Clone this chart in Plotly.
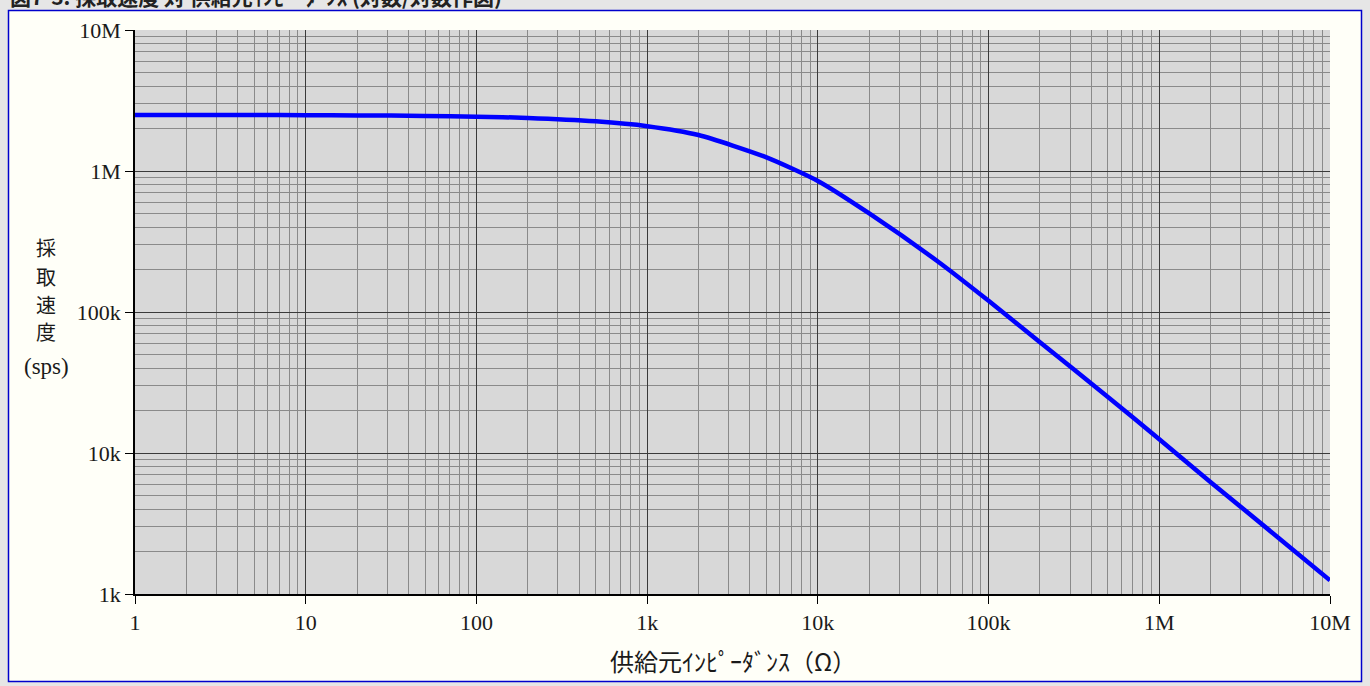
import plotly.graph_objects as go

# Source impedance (ohm) and sampling rate (sps)
impedance = [1, 2, 5, 10, 20, 50, 100, 200, 500, 1e3, 2e3, 5e3, 1e4, 2e4, 5e4,
             1e5, 2e5, 5e5, 1e6, 2e6, 5e6, 1e7]
rate = [2.5e6, 2.5e6, 2.5e6, 2.49e6, 2.48e6, 2.46e6, 2.43e6, 2.38e6, 2.25e6,
        2.08e6, 1.8e6, 1.25e6, 0.85e6, 0.5e6, 0.23e6, 0.12e6, 0.061e6,
        0.025e6, 12.5e3, 6.2e3, 2.5e3, 1.25e3]

x_tickvals = [1, 10, 100, 1e3, 1e4, 1e5, 1e6, 1e7]
x_ticktext = ["1", "10", "100", "1k", "10k", "100k", "1M", "10M"]
y_tickvals = [1e3, 1e4, 1e5, 1e6, 1e7]
y_ticktext = ["1k", "10k", "100k", "1M", "10M"]

title_text = "図7-3. 採取速度 対 供給元ｲﾝﾋﾟｰﾀﾞﾝｽ (対数/対数作図)"
x_title = "供給元ｲﾝﾋﾟｰﾀﾞﾝｽ（Ω）"
y_title_parts = ["採", "取", "速", "度", "(sps)"]

FONT = "Liberation Serif, Noto Sans CJK JP, serif"
CJK = "Noto Sans CJK JP, sans-serif"

W, H = 1370, 686
L, R, T, B = 135, 40, 30, 92
pw, ph = W - L - R, H - T - B

def px_x(p):
    return (p - L) / pw

def px_y(p):
    return (H - B - p) / ph

fig = go.Figure()
fig.add_trace(go.Scatter(
    x=impedance, y=rate, mode="lines",
    line=dict(color="#0000ff", width=4.5, shape="spline", smoothing=0.6),
    hoverinfo="x+y", showlegend=False,
))

axis_common = dict(
    type="log",
    showgrid=True, gridcolor="#3a3a3a", gridwidth=1,
    minor=dict(showgrid=True, gridcolor="#8a8a8a", gridwidth=1, dtick="D1",
               ticks=""),
    ticks="outside", ticklen=8, tickcolor="#000000", tickwidth=1,
    showline=True, linecolor="#000000", linewidth=1.5,
    tickfont=dict(family=FONT, size=22, color="#1a1a1a"),
    zeroline=False,
)

fig.update_xaxes(**axis_common, range=[0, 7], tickvals=x_tickvals,
                 ticktext=x_ticktext)
fig.update_yaxes(**axis_common, range=[3, 7], tickvals=y_tickvals,
                 ticktext=y_ticktext)

shapes = [
    dict(type="rect", xref="paper", yref="paper", x0=px_x(0), x1=px_x(8),
         y0=px_y(H), y1=px_y(0), fillcolor="#e6e6e6", line=dict(width=0)),
    dict(type="rect", xref="paper", yref="paper", x0=px_x(1362), x1=px_x(W),
         y0=px_y(H), y1=px_y(0), fillcolor="#e6e6e6", line=dict(width=0)),
    dict(type="rect", xref="paper", yref="paper", x0=px_x(0), x1=px_x(W),
         y0=px_y(10), y1=px_y(0), fillcolor="#e6e6e6", line=dict(width=0)),
    dict(type="rect", xref="paper", yref="paper", x0=px_x(0), x1=px_x(W),
         y0=px_y(H), y1=px_y(682), fillcolor="#e6e6e6", line=dict(width=0)),
    dict(type="rect", xref="paper", yref="paper", x0=px_x(8.5), x1=px_x(1361.5),
         y0=px_y(681.5), y1=px_y(10.5), fillcolor="rgba(0,0,0,0)",
         line=dict(color="#0000cc", width=1.5)),
]

annotations = [
    dict(text="<b>" + title_text + "</b>", xref="paper", yref="paper",
         x=px_x(8), y=px_y(13), xanchor="left", yanchor="bottom",
         showarrow=False, font=dict(family=CJK, size=21, color="#222222")),
    dict(text=x_title, xref="paper", yref="paper", x=px_x(733), y=px_y(660),
         xanchor="center", yanchor="middle", showarrow=False,
         font=dict(family=CJK, size=24, color="#1a1a1a")),
]
y_title_pos = [(46, 248), (46, 276), (46, 304), (46, 332), (46, 366)]
for part, (px, py) in zip(y_title_parts, y_title_pos):
    annotations.append(dict(
        text=part, xref="paper", yref="paper", x=px_x(px), y=px_y(py),
        xanchor="center", yanchor="middle", showarrow=False,
        font=dict(family=CJK if len(part) == 1 else FONT,
                  size=20 if len(part) == 1 else 23, color="#1a1a1a")))

fig.update_layout(
    width=W, height=H,
    margin=dict(l=L, r=R, t=T, b=B, pad=0),
    paper_bgcolor="#fffff8",
    plot_bgcolor="#d8d8d8",
    shapes=shapes,
    annotations=annotations,
    showlegend=False,
)

fig.write_html(
    "out.html",
    config={"displayModeBar": False},
    post_script="document.body.style.margin='0';"
                "document.body.style.padding='0';"
                "document.body.style.overflow='hidden';"
                "document.body.style.background='#e6e6e6';",
)
